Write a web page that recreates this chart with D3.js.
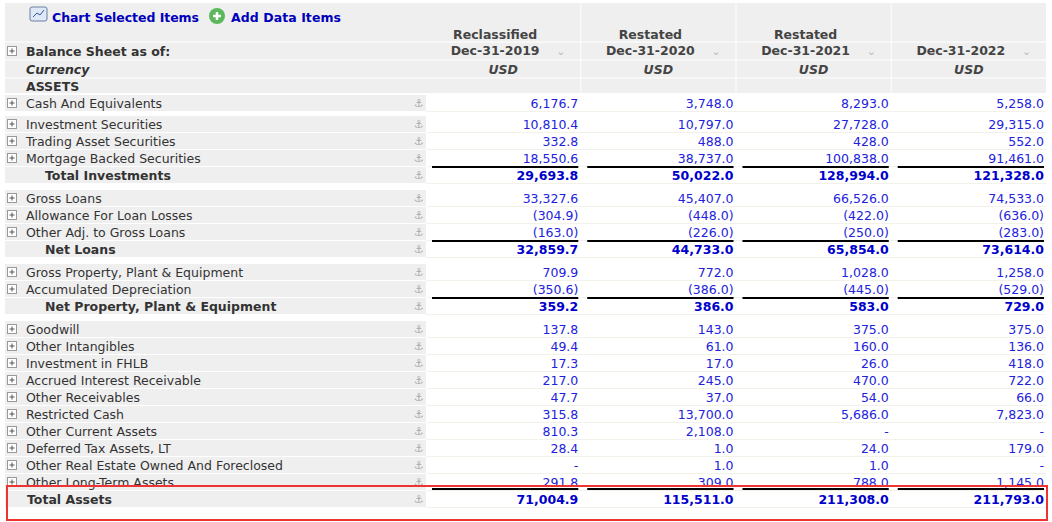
<!DOCTYPE html>
<html><head><meta charset="utf-8">
<script src="https://cdn.jsdelivr.net/npm/d3@7"></script>
<style>
body{margin:0;background:#fff;font-family:"DejaVu Sans",Verdana,sans-serif;}
</style></head><body>
<svg id="chart" width="1052" height="522"></svg>
<script>
'use strict';

var columnTitles = ['Reclassified', 'Restated', 'Restated', ''],
    columnDates = ['Dec-31-2019', 'Dec-31-2020', 'Dec-31-2021', 'Dec-31-2022'],
    rowLabels = ['Cash And Equivalents', 'Investment Securities', 'Trading Asset Securities', 'Mortgage Backed Securities',
        'Total Investments', 'Gross Loans', 'Allowance For Loan Losses', 'Other Adj. to Gross Loans', 'Net Loans',
        'Gross Property, Plant & Equipment', 'Accumulated Depreciation', 'Net Property, Plant & Equipment',
        'Goodwill', 'Other Intangibles', 'Investment in FHLB', 'Accrued Interest Receivable', 'Other Receivables',
        'Restricted Cash', 'Other Current Assets', 'Deferred Tax Assets, LT', 'Other Real Estate Owned And Foreclosed',
        'Other Long-Term Assets', 'Total Assets'],
    totalRows = ['Total Investments', 'Net Loans', 'Net Property, Plant & Equipment', 'Total Assets'],
    gapBefore = ['Investment Securities', 'Gross Loans', 'Gross Property, Plant & Equipment', 'Goodwill'],
    values2019 = [6176.7, 10810.4, 332.8, 18550.6, 29693.8, 33327.6, -304.9, -163.0, 32859.7, 709.9, -350.6, 359.2,
        137.8, 49.4, 17.3, 217.0, 47.7, 315.8, 810.3, 28.4, null, 291.8, 71004.9],
    values2020 = [3748.0, 10797.0, 488.0, 38737.0, 50022.0, 45407.0, -448.0, -226.0, 44733.0, 772.0, -386.0, 386.0,
        143.0, 61.0, 17.0, 245.0, 37.0, 13700.0, 2108.0, 1.0, 1.0, 309.0, 115511.0],
    values2021 = [8293.0, 27728.0, 428.0, 100838.0, 128994.0, 66526.0, -422.0, -250.0, 65854.0, 1028.0, -445.0, 583.0,
        375.0, 160.0, 26.0, 470.0, 54.0, 5686.0, null, 24.0, 1.0, 788.0, 211308.0],
    values2022 = [5258.0, 29315.0, 552.0, 91461.0, 121328.0, 74533.0, -636.0, -283.0, 73614.0, 1258.0, -529.0, 729.0,
        375.0, 136.0, 418.0, 722.0, 66.0, 7823.0, null, 179.0, null, 1145.0, 211793.0];

var series = [values2019, values2020, values2021, values2022];
var svg = d3.select('#chart');
var fmt = d3.format(',.1f');
function show(v) {
    if (v === null) return '-';
    return v < 0 ? '(' + fmt(-v) + ')' : fmt(v);
}

// column positions
var x = d3.scaleBand().domain(d3.range(4)).range([426, 1046]).paddingInner(0.006);

// row positions: 17px rows, extra space before groups and after totals
var rowY = [], y = 103;
rowLabels.forEach(function (label, i) {
    if (i > 0) {
        y += 17;
        if (gapBefore.indexOf(label) >= 0) y += totalRows.indexOf(rowLabels[i - 1]) >= 0 ? 6 : 4;
    }
    rowY.push(y);
});

// backgrounds
svg.append('rect').attr('x', 0).attr('y', 0).attr('width', 1052).attr('height', 522).attr('fill', '#fff');
svg.append('rect').attr('x', 5).attr('y', 3).attr('width', 421).attr('height', 90).attr('fill', '#efefef');
x.domain().forEach(function (c) {
    svg.append('rect').attr('x', x(c)).attr('y', 3).attr('width', x.bandwidth()).attr('height', 90).attr('fill', '#efefef');
});
[42, 60, 78].forEach(function (yy) {
    svg.append('line').attr('x1', 5).attr('x2', 1046).attr('y1', yy).attr('y2', yy).attr('stroke', '#fff');
});

var rows = svg.selectAll('g.row').data(rowLabels).enter().append('g').attr('class', 'row')
    .attr('transform', function (d, i) { return 'translate(0,' + rowY[i] + ')'; });

rows.append('rect').attr('x', 5).attr('y', -8).attr('width', 421).attr('height', 16).attr('fill', '#efefef');
rows.append('line').attr('x1', 426).attr('x2', 1046).attr('y1', 8.5).attr('y2', 8.5).attr('stroke', '#f2f2ea');
rows.filter(function (d) { return totalRows.indexOf(d) < 0; })
    .append('g').attr('transform', 'translate(12,0)').each(function () {
        var g = d3.select(this);
        g.append('rect').attr('x', -4.5).attr('y', -4.5).attr('width', 9).attr('height', 9)
            .attr('fill', '#fff').attr('stroke', '#999');
        g.append('path').attr('d', 'M-2.5,0H2.5M0,-2.5V2.5').attr('stroke', '#555');
    });
rows.append('text')
    .attr('x', function (d) { return totalRows.indexOf(d) >= 0 ? (d === 'Total Assets' ? 27 : 45) : 26; })
    .attr('y', 4.5)
    .attr('font-size', 12.5)
    .attr('font-weight', function (d) { return totalRows.indexOf(d) >= 0 ? 'bold' : 'normal'; })
    .attr('fill', '#333')
    .text(function (d) { return d; });
rows.append('text').attr('x', 419).attr('y', 4).attr('font-size', 11).attr('text-anchor', 'middle')
    .attr('fill', '#aaa').text('⚓');

series.forEach(function (vals, c) {
    rows.append('text')
        .attr('x', x(c) + x.bandwidth() - 2)
        .attr('y', 4.5)
        .attr('text-anchor', 'end')
        .attr('font-size', 12.5)
        .attr('font-weight', function (d) { return totalRows.indexOf(d) >= 0 ? 'bold' : 'normal'; })
        .attr('fill', function (d) { return totalRows.indexOf(d) >= 0 ? '#0000cc' : '#2222dd'; })
        .text(function (d, i) { return show(vals[i]); });
    rows.filter(function (d) { return totalRows.indexOf(d) >= 0; })
        .append('line').attr('x1', x(c) + 6).attr('x2', x(c) + x.bandwidth() - 2)
        .attr('y1', function (d) { return d === 'Total Assets' ? -10 : -8; })
        .attr('y2', function (d) { return d === 'Total Assets' ? -10 : -8; })
        .attr('stroke', '#000').attr('stroke-width', 2);
});

// headers
var head = svg.append('g');
x.domain().forEach(function (c) {
    var cx = x(c) + x.bandwidth() / 2 - 8;
    head.append('text').attr('x', cx).attr('y', 39).attr('text-anchor', 'middle').attr('font-size', 12.5)
        .attr('font-weight', 'bold').attr('fill', '#444').text(columnTitles[c]);
    head.append('text').attr('x', cx).attr('y', 55).attr('text-anchor', 'middle').attr('font-size', 12.5)
        .attr('font-weight', 'bold').attr('fill', '#444').text(columnDates[c]);
    head.append('text').attr('x', x(c) + x.bandwidth() - 24).attr('y', 55).attr('font-size', 11)
        .attr('fill', '#bbb').text('⌄');
    head.append('text').attr('x', cx + 8).attr('y', 74).attr('text-anchor', 'middle').attr('font-size', 12.5)
        .attr('font-weight', 'bold').attr('font-style', 'italic').attr('fill', '#444').text('USD');
});
head.append('rect').attr('x', 7.5).attr('y', 46.5).attr('width', 9).attr('height', 9).attr('fill', '#fff').attr('stroke', '#999');
head.append('path').attr('d', 'M9.5,51H14.5M12,48.5V53.5').attr('stroke', '#555');
head.append('text').attr('x', 26).attr('y', 56).attr('font-size', 12.5).attr('font-weight', 'bold').attr('fill', '#333').text('Balance Sheet as of:');
head.append('text').attr('x', 26).attr('y', 74).attr('font-size', 12.5).attr('font-weight', 'bold').attr('font-style', 'italic').attr('fill', '#333').text('Currency');
head.append('text').attr('x', 26).attr('y', 91).attr('font-size', 12.5).attr('font-weight', 'bold').attr('fill', '#333').text('ASSETS');

// toolbar
var icon = head.append('g').attr('transform', 'translate(30,7)');
icon.append('rect').attr('width', 17).attr('height', 14).attr('rx', 2).attr('fill', '#dfe8f5').attr('stroke', '#6a7fa8');
icon.append('path').attr('d', 'M3,10L7,6L10,8L14,3').attr('fill', 'none').attr('stroke', '#3355aa');
head.append('text').attr('x', 52).attr('y', 22).attr('font-size', 12.5).attr('font-weight', 'bold').attr('fill', '#0000bb')
    .attr('textLength', 147).text('Chart Selected Items');
head.append('circle').attr('cx', 217).attr('cy', 16).attr('r', 8).attr('fill', '#5cb85c');
head.append('path').attr('d', 'M213,16H221M217,12V20').attr('stroke', '#fff').attr('stroke-width', 2.5);
head.append('text').attr('x', 231).attr('y', 22).attr('font-size', 12.5).attr('font-weight', 'bold').attr('fill', '#0000bb')
    .attr('textLength', 110).text('Add Data Items');

// highlight box on the last row
svg.append('rect').attr('x', 7).attr('y', 486).attr('width', 1040).attr('height', 34)
    .attr('fill', 'none').attr('stroke', '#ee3333').attr('stroke-width', 2);
</script>
</body></html>
